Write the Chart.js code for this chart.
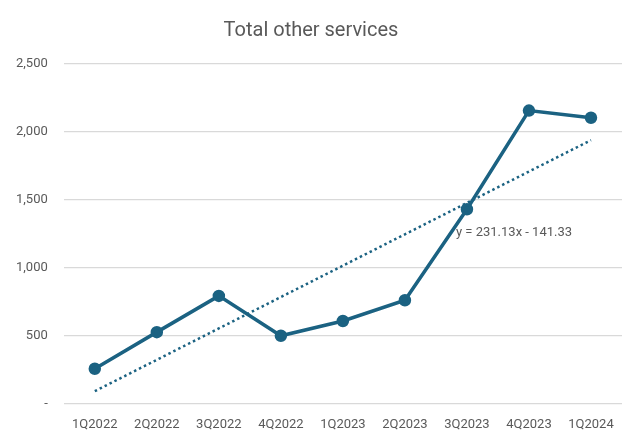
<!DOCTYPE html>
<html>
<head>
<meta charset="utf-8">
<script src="https://cdn.jsdelivr.net/npm/chart.js@4/dist/chart.umd.min.js"></script>
<style>
  html, body { margin: 0; padding: 0; background: #fff; }
  #wrap { width: 640px; height: 439px; position: relative; }
</style>
</head>
<body>
<div id="wrap"><canvas id="chart"></canvas></div>
<script>
// ── Total other services ──
const quarters = ['1Q2022','2Q2022','3Q2022','4Q2022','1Q2023','2Q2023','3Q2023','4Q2023','1Q2024'];
const services = [255, 525, 792, 498, 607, 760, 1430, 2157, 2104];
// trendline end values (dotted line)
const trendValues = [90, null, null, null, null, null, null, null, 1939];
const trendLabel = 'y = 231.13x - 141.33';
const yTicks = [0, 500, 1000, 1500, 2000, 2500];

const FONT = "'Liberation Sans Narrow', 'Roboto', sans-serif";
const LINE = '#1b6282';
const GREY = '#595959';

const trendText = {
  id: 'trendText',
  afterDatasetsDraw(chart) {
    const { ctx, scales: { x, y } } = chart;
    ctx.save();
    ctx.font = '13px ' + FONT;
    ctx.fillStyle = GREY;
    ctx.textBaseline = 'middle';
    ctx.fillText(trendLabel, x.getPixelForValue(6) - 11, y.getPixelForValue(1255));
    ctx.restore();
  }
};

new Chart(document.getElementById('chart'), {
  type: 'line',
  data: {
    labels: quarters,
    datasets: [
      { label: 'Total other services', data: services, borderColor: LINE, backgroundColor: LINE,
        borderWidth: 3.5, pointRadius: 4.5, pointHoverRadius: 4.5, tension: 0 },
      { label: 'Trend', data: trendValues, borderColor: LINE, borderWidth: 2.5, borderDash: [2.5, 3],
        pointRadius: 0, spanGaps: true, fill: false, borderCapStyle: 'butt' }
    ]
  },
  options: {
    responsive: true,
    maintainAspectRatio: false,
    animation: false,
    layout: { padding: { left: 0, right: 18, top: 3, bottom: 0 } },
    plugins: {
      legend: { display: false },
      tooltip: { enabled: false },
      title: { display: true, text: 'Total other services', color: GREY,
        font: { family: FONT, size: 20, weight: 'normal' }, padding: { top: 16, bottom: 21 } }
    },
    scales: {
      x: {
        offset: true,
        grid: { display: false },
        border: { display: false },
        ticks: { color: GREY, font: { family: FONT, size: 13 }, padding: 6, maxRotation: 0 }
      },
      y: {
        min: 0, max: 2500,
        afterBuildTicks: s => { s.ticks = yTicks.map(v => ({ value: v })); },
        grid: { color: '#d9d9d9', lineWidth: 1.3, drawTicks: false },
        border: { display: false },
        ticks: { color: GREY, font: { family: FONT, size: 13 }, padding: 16,
          callback: v => v === 0 ? '-' : v.toLocaleString('en-US') }
      }
    }
  },
  plugins: [trendText]
});
</script>
</body>
</html>
